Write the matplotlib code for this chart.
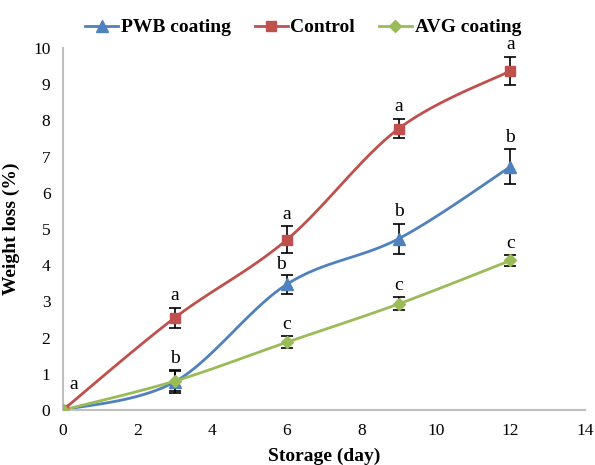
import numpy as np
import matplotlib
matplotlib.use("Agg")
import matplotlib.pyplot as plt

plt.rcParams['font.family'] = ['Liberation Serif', 'DejaVu Serif']

days = [0, 3, 6, 9, 12]
pwb = [0, 0.78, 3.47, 4.73, 6.72]
pwb_err = [0, 0.32, 0.27, 0.42, 0.48]
control = [0, 2.55, 4.70, 7.77, 9.37]
control_err = [0, 0.28, 0.37, 0.27, 0.38]
avg = [0, 0.80, 1.87, 2.93, 4.13]
avg_err = [0, 0.28, 0.17, 0.18, 0.14]

pwb_letters = ['', 'b', 'b', 'b', 'b']
control_letters = ['a', 'a', 'a', 'a', 'a']
avg_letters = ['', '', 'c', 'c', 'c']


def smooth(x, y, n=30):
    # Excel-like smoothed line (Catmull-Rom between points)
    x = np.asarray(x, float)
    y = np.asarray(y, float)
    px = np.concatenate([[x[0]], x, [x[-1]]])
    py = np.concatenate([[y[0]], y, [y[-1]]])
    xs, ys = [], []
    for i in range(1, len(px) - 2):
        p0, p1, p2, p3 = (np.array([px[j], py[j]]) for j in range(i - 1, i + 3))
        c1 = p1 + (p2 - p0) / 6
        c2 = p2 - (p3 - p1) / 6
        t = np.linspace(0, 1, n)[:, None]
        b = (1 - t) ** 3 * p1 + 3 * (1 - t) ** 2 * t * c1 + 3 * (1 - t) * t ** 2 * c2 + t ** 3 * p2
        xs.extend(b[:, 0])
        ys.extend(b[:, 1])
    return xs, ys


fig = plt.figure(figsize=(5.95, 4.65), dpi=100)
ax = fig.add_axes([63 / 595, 55 / 465, 522 / 595, 362 / 465])

series = [
    ('PWB coating', pwb, pwb_err, '#4F81BD', '^', 8),
    ('Control', control, control_err, '#C0504D', 's', 7.5),
    ('AVG coating', avg, avg_err, '#9BBB59', 'D', 6.5),
]

for name, vals, err, col, mk, ms in series:
    sx, sy = smooth(days, vals)
    ax.plot(sx, sy, color=col, lw=2, zorder=2)
    ax.errorbar(days, vals, yerr=err, fmt='none', ecolor='black', elinewidth=1.2,
                capsize=4, capthick=1.2, zorder=3)
    ax.plot(days, vals, ls='none', marker=mk, ms=ms, color=col, zorder=4)
    ax.plot([], [], color=col, lw=2, marker=mk, ms=ms, label=name)

for lets, vals, err in [(pwb_letters, pwb, pwb_err), (control_letters, control, control_err),
                        (avg_letters, avg, avg_err)]:
    for d, v, e, t in zip(days, vals, err, lets):
        if not t:
            continue
        if d == 0:
            ax.text(0.3, 0.7, t, fontsize=14, ha='center', va='center')
        elif d == 6 and t == 'b':
            ax.text(d - 0.15, v + e + 0.05, t, fontsize=14, ha='center', va='bottom')
        else:
            ax.text(d, v + e + 0.1, t, fontsize=14, ha='center', va='bottom')

ax.set_xlim(0, 14)
ax.set_ylim(0, 10)
ax.set_xticks(range(0, 15, 2))
ax.set_yticks(range(0, 11))
ax.tick_params(labelsize=12.5, length=0, pad=9)
for s in ['top', 'right']:
    ax.spines[s].set_visible(False)
for s in ['left', 'bottom']:
    ax.spines[s].set_color('#BFBFBF')
    ax.spines[s].set_linewidth(1.5)
ax.set_xlabel('Storage (day)', fontsize=14, fontweight='bold')
ax.set_ylabel('Weight loss (%)', fontsize=14, fontweight='bold')
ax.xaxis.set_label_coords(0.5, -0.103)
ax.yaxis.set_label_coords(-0.083, 0.5)
for lb in ax.get_xticklabels() + ax.get_yticklabels():
    lb.set_clip_on(False)

ax.legend(loc='lower center', bbox_to_anchor=(0.46, 1.0), ncol=3, frameon=False,
          prop={'weight': 'bold', 'size': 14}, handlelength=1.7, handletextpad=0.15,
          columnspacing=1.2, borderaxespad=0.2)

fig.savefig('out.png', dpi=100)
